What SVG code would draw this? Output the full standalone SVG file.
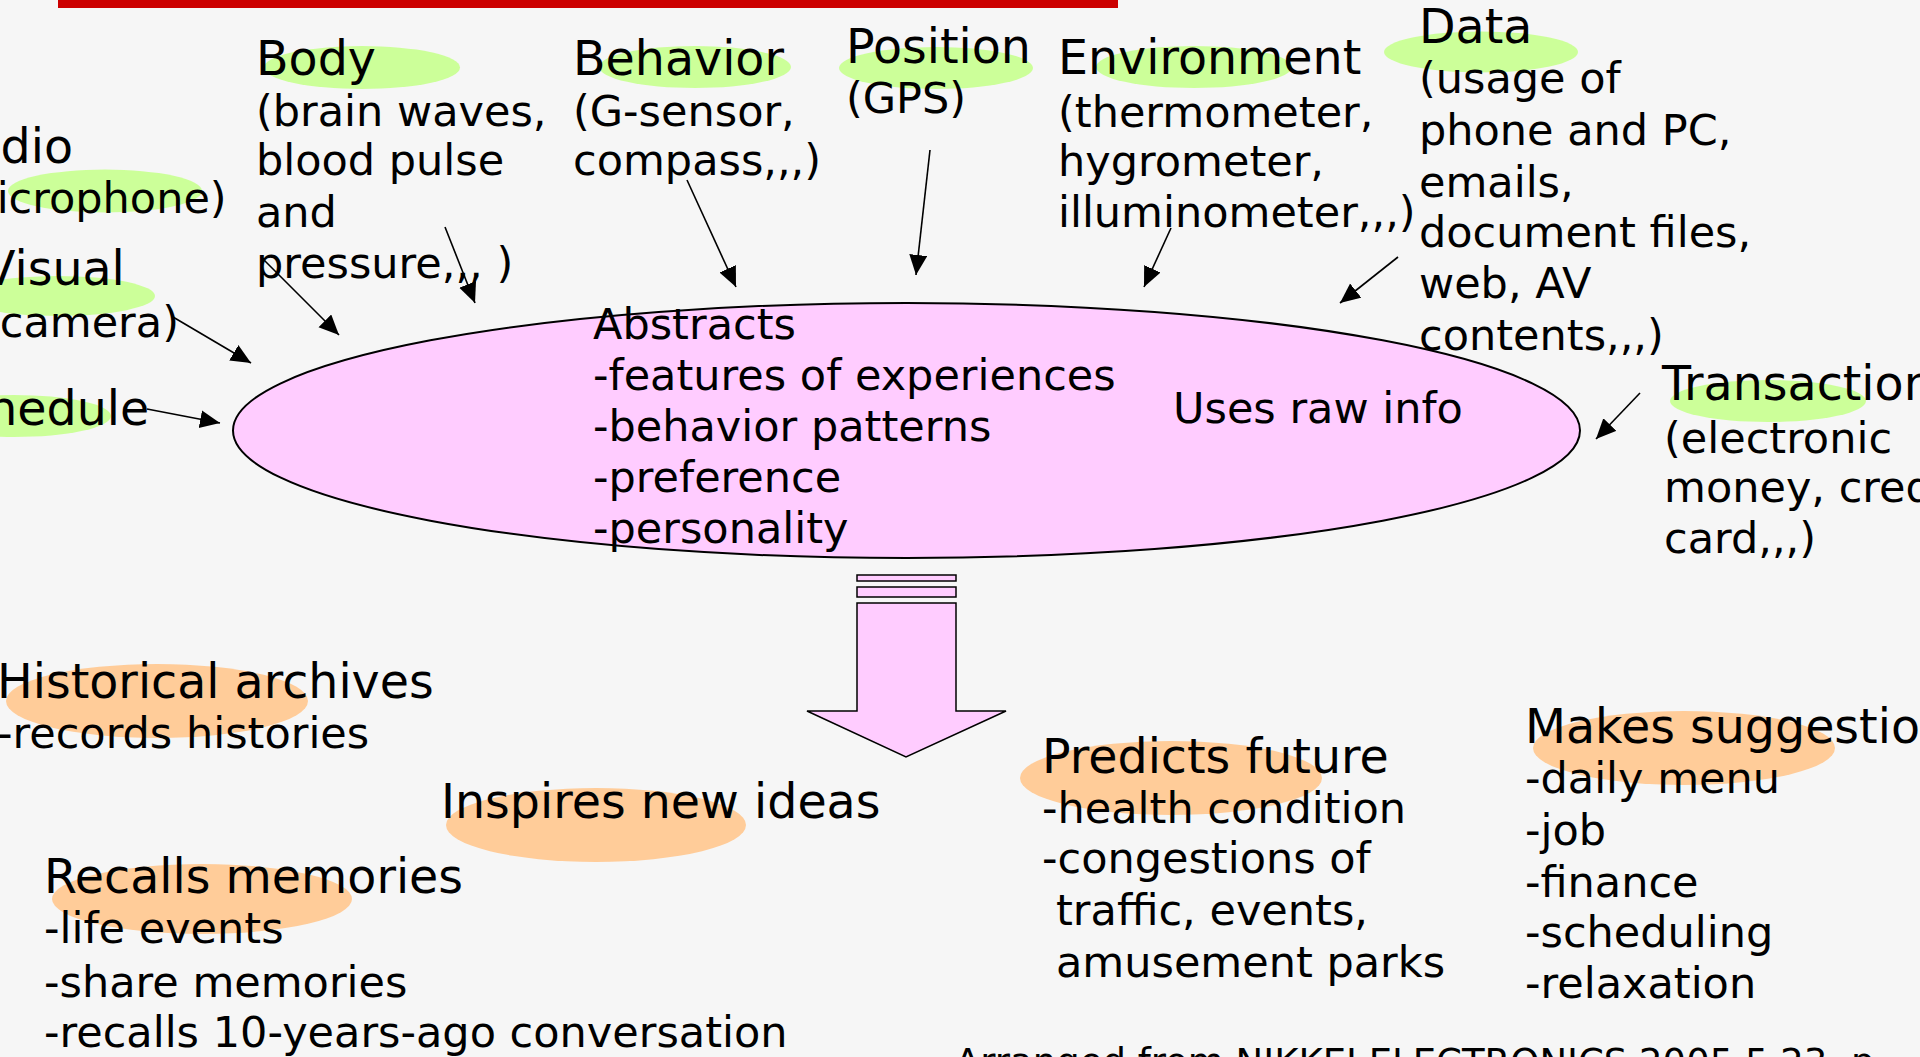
<svg xmlns="http://www.w3.org/2000/svg" width="1920" height="1057" viewBox="0 0 1920 1057">
  <style>
    .h { font-family: "DejaVu Sans", sans-serif; font-size: 47.5px; fill: #000; }
    .t { font-family: "DejaVu Sans", sans-serif; font-size: 43px; fill: #000; }
    .note { font-family: "DejaVu Sans", sans-serif; font-size: 37px; fill: #000; }
    .hl-g { fill: #ccff99; }
    .hl-o { fill: #ffcc99; }
    .core { fill: #ffccff; stroke: #000; stroke-width: 2; }
    .conn line { stroke: #000; stroke-width: 1.6; marker-end: url(#ah); }
  </style>
  <defs>
    <marker id="ah" markerUnits="userSpaceOnUse" markerWidth="22" markerHeight="20" refX="20" refY="9" orient="auto">
      <path d="M0,0 L20,9 L0,18 z" fill="#000"/>
    </marker>
  </defs>

  <rect width="1920" height="1057" fill="#f6f6f6"/>
  <rect x="58" y="0" width="1060" height="8" fill="#cc0000"/>

  <!-- central ellipse -->
  <g id="core">
    <ellipse class="core" cx="906.5" cy="430.5" rx="673.5" ry="127.5"/>
    <text class="t" x="593" y="339">Abstracts</text>
    <text class="t" x="593" y="390">-features of experiences</text>
    <text class="t" x="593" y="441">-behavior patterns</text>
    <text class="t" x="593" y="492">-preference</text>
    <text class="t" x="593" y="543">-personality</text>
    <text class="t" x="1173" y="423">Uses raw info</text>
  </g>

  <!-- sources -->
  <g id="audio">
    <ellipse class="hl-g" cx="105" cy="191" rx="97" ry="21.5"/>
    <text class="h" x="-62" y="163">Audio</text>
    <text class="t" x="-62" y="213">(microphone)</text>
  </g>
  <g id="visual">
    <ellipse class="hl-g" cx="58" cy="296" rx="97" ry="20"/>
    <text class="h" x="-17" y="285">Visual</text>
    <text class="t" x="-17" y="337">(camera)</text>
  </g>
  <g id="schedule">
    <ellipse class="hl-g" cx="14" cy="416" rx="97" ry="21"/>
    <text class="h" x="-69" y="425">Schedule</text>
  </g>
  <g id="body">
    <ellipse class="hl-g" cx="362" cy="67.5" rx="98" ry="21.5"/>
    <text class="h" x="256" y="75">Body</text>
    <text class="t" x="256" y="126">(brain waves,</text>
    <text class="t" x="256" y="175">blood pulse</text>
    <text class="t" x="256" y="227">and</text>
    <text class="t" x="256" y="278">pressure,,, )</text>
  </g>
  <g id="behavior">
    <ellipse class="hl-g" cx="695" cy="67" rx="96" ry="21"/>
    <text class="h" x="573" y="75">Behavior</text>
    <text class="t" x="573" y="126">(G-sensor,</text>
    <text class="t" x="573" y="175">compass,,,)</text>
  </g>
  <g id="position">
    <ellipse class="hl-g" cx="936" cy="68" rx="97" ry="21"/>
    <text class="h" x="846" y="63">Position</text>
    <text class="t" x="846" y="113">(GPS)</text>
  </g>
  <g id="environment">
    <ellipse class="hl-g" cx="1194" cy="67" rx="98" ry="21"/>
    <text class="h" x="1058" y="74">Environment</text>
    <text class="t" x="1058" y="127">(thermometer,</text>
    <text class="t" x="1058" y="176">hygrometer,</text>
    <text class="t" x="1058" y="227">illuminometer,,,)</text>
  </g>
  <g id="data">
    <ellipse class="hl-g" cx="1481" cy="52" rx="97" ry="20.5"/>
    <text class="h" x="1419" y="43">Data</text>
    <text class="t" x="1419" y="93">(usage of</text>
    <text class="t" x="1419" y="145">phone and PC,</text>
    <text class="t" x="1419" y="197">emails,</text>
    <text class="t" x="1419" y="247">document files,</text>
    <text class="t" x="1419" y="298">web, AV</text>
    <text class="t" x="1419" y="350">contents,,,)</text>
  </g>
  <g id="transaction">
    <ellipse class="hl-g" cx="1768" cy="401" rx="98" ry="21"/>
    <text class="h" x="1662" y="400">Transaction</text>
    <text class="t" x="1664" y="453">(electronic</text>
    <text class="t" x="1664" y="502">money, credit</text>
    <text class="t" x="1664" y="553">card,,,)</text>
  </g>

  <!-- block arrow from the core down to the outcomes -->
  <g id="flow" fill="#ffccff" stroke="#000" stroke-width="1.5">
    <rect x="857" y="575" width="99" height="6"/>
    <rect x="857" y="587" width="99" height="10"/>
    <polygon points="857,603 956,603 956,711 1006,711 906,757 807,711 857,711"/>
  </g>

  <!-- outcomes -->
  <g id="history">
    <ellipse class="hl-o" cx="157" cy="701" rx="151" ry="37"/>
    <text class="h" x="-3" y="698">Historical archives</text>
    <text class="t" x="-3" y="748">-records histories</text>
  </g>
  <g id="inspire">
    <ellipse class="hl-o" cx="596" cy="825" rx="150" ry="37"/>
    <text class="h" x="441" y="818">Inspires new ideas</text>
  </g>
  <g id="recall">
    <ellipse class="hl-o" cx="202" cy="899" rx="150" ry="35"/>
    <text class="h" x="44" y="893">Recalls memories</text>
    <text class="t" x="44" y="943">-life events</text>
    <text class="t" x="44" y="997">-share memories</text>
    <text class="t" x="44" y="1047">-recalls 10-years-ago conversation</text>
  </g>
  <g id="predict">
    <ellipse class="hl-o" cx="1171" cy="778" rx="151" ry="37"/>
    <text class="h" x="1042" y="773">Predicts future</text>
    <text class="t" x="1042" y="823">-health condition</text>
    <text class="t" x="1042" y="873">-congestions of</text>
    <text class="t" x="1056" y="925">traffic, events,</text>
    <text class="t" x="1056" y="977">amusement parks</text>
  </g>
  <g id="suggest">
    <ellipse class="hl-o" cx="1684" cy="748" rx="151" ry="37"/>
    <text class="h" x="1525" y="743">Makes suggestions</text>
    <text class="t" x="1525" y="793">-daily menu</text>
    <text class="t" x="1525" y="845">-job</text>
    <text class="t" x="1525" y="897">-finance</text>
    <text class="t" x="1525" y="947">-scheduling</text>
    <text class="t" x="1525" y="998">-relaxation</text>
  </g>

  <text class="note" x="955" y="1075">Arranged from NIKKEI ELECTRONICS 2005.5.23, p</text>

  <!-- input connectors -->
  <g class="conn" id="connectors">
    <line x1="261" y1="257" x2="339" y2="335"/>
    <line x1="445" y1="227" x2="475" y2="303"/>
    <line x1="687" y1="180" x2="736" y2="287"/>
    <line x1="930" y1="150" x2="916" y2="275"/>
    <line x1="1171" y1="228" x2="1144" y2="287"/>
    <line x1="1398" y1="257" x2="1340" y2="303"/>
    <line x1="173" y1="317" x2="251" y2="363"/>
    <line x1="147" y1="409" x2="220" y2="423"/>
    <line x1="1640" y1="393" x2="1596" y2="439"/>
  </g>
</svg>
